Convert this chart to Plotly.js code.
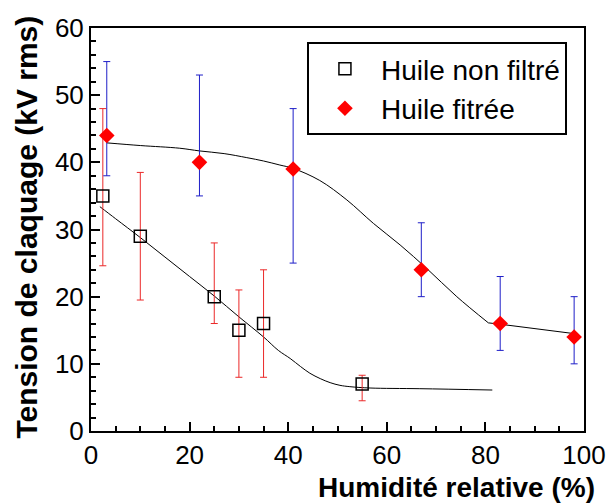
<!DOCTYPE html>
<html>
<head>
<meta charset="utf-8">
<script src="https://cdn.plot.ly/plotly-3.0.1.min.js"></script>
<style>html,body{margin:0;padding:0;background:#fff;}#chart{width:610px;height:504px;}</style>
</head>
<body>
<div id="chart"></div>
<script>
// Huile non filtré (open squares)
var nfX = [2.4, 10, 25, 30, 35, 55];
var nfY = [35, 29, 20, 15, 16, 7];
var nfErrUp = [13, 9.5, 8, 6, 8, 1.3];      // top - value
var nfErrDown = [10.4, 9.5, 4, 7, 8, 2.5];  // value - bottom

// Huile fitrée (red diamonds)
var fX = [3.2, 22, 41, 67, 83, 98];
var fY = [44, 40, 39, 24, 16, 14];
var fErrUp = [11, 13, 9, 7, 7, 6];
var fErrDown = [6, 5, 14, 4, 4, 4];

// fitted curves
var nfFitX = [1.8, 5, 10, 15, 20, 25, 30, 35, 38, 40.4, 42.5, 44.4, 46.5, 48.5, 50.5, 52.5, 56.6, 66.7, 81.4];
var nfFitY = [33.4, 31.6, 28.8, 25.9, 23.0, 20.1, 17.0, 14.0, 12.0, 10.8, 9.6, 8.6, 7.8, 7.2, 6.8, 6.6, 6.4, 6.3, 6.1];
var fFitX = [3.2, 10, 18, 22, 27, 31.6, 35, 38.3, 41, 46.4, 51.9, 57.3, 62.7, 68.1, 74.2, 80.6];
var fFitY = [42.9, 42.5, 42.1, 41.7, 41.3, 40.7, 40.2, 39.6, 39.1, 37.3, 34.4, 30.9, 27.7, 24.2, 20.0, 16.1];
var fTailX = [80.6, 83, 98];
var fTailY = [16.1, 15.9, 14.5];

var xTitle = 'Humidité relative (%)';
var yTitle = 'Tension de claquage (kV rms)';
var nfName = 'Huile non filtré';
var fName = 'Huile fitrée';

var FONT = 'Liberation Sans, Arial, sans-serif';

var traces = [
  {x: nfFitX, y: nfFitY, mode: 'lines', line: {color: '#000', width: 1, shape: 'spline', smoothing: 1}, showlegend: false, hoverinfo: 'skip'},
  {x: fFitX, y: fFitY, mode: 'lines', line: {color: '#000', width: 1, shape: 'spline', smoothing: 1}, showlegend: false, hoverinfo: 'skip'},
  {x: fTailX, y: fTailY, mode: 'lines', line: {color: '#000', width: 1}, showlegend: false, hoverinfo: 'skip'},
  {x: nfX, y: nfY, name: nfName, mode: 'markers', type: 'scatter',
   marker: {symbol: 'square-open', size: 12, color: '#000', line: {width: 1.5, color: '#000'}},
   error_y: {type: 'data', symmetric: false, array: nfErrUp, arrayminus: nfErrDown, color: 'rgb(235,40,40)', thickness: 1, width: 3.5}},
  {x: fX, y: fY, name: fName, mode: 'markers', type: 'scatter',
   marker: {symbol: 'diamond', size: 12, color: '#ff0000', line: {width: 0}},
   error_y: {type: 'data', symmetric: false, array: fErrUp, arrayminus: fErrDown, color: 'rgb(30,30,200)', thickness: 1, width: 3.5}}
];

var layout = {
  width: 610, height: 504,
  margin: {l: 91, r: 26, t: 28, b: 73},
  paper_bgcolor: '#fff', plot_bgcolor: '#fff',
  font: {family: FONT, color: '#000', size: 26},
  showlegend: true,
  legend: {x: 0.438, y: 0.965, xanchor: 'left', yanchor: 'top', bgcolor: '#fff',
           bordercolor: '#000', borderwidth: 2, font: {family: FONT, size: 28, color: '#000'},
           itemwidth: 62},
  xaxis: {range: [0, 100], dtick: 20, tick0: 0, ticks: 'inside', ticklen: 9, tickwidth: 2, tickcolor: '#000',
          showline: true, linewidth: 2, linecolor: '#000', mirror: true, showgrid: false, zeroline: false,
          ticklabelstandoff: 0, tickfont: {family: FONT, size: 26, color: '#000'},
          minor: {dtick: 5, ticks: 'inside', ticklen: 5, tickwidth: 2, tickcolor: '#000', showgrid: false}},
  yaxis: {range: [0, 60], dtick: 10, tick0: 0, ticks: 'inside', ticklen: 9, tickwidth: 2, tickcolor: '#000',
          showline: true, linewidth: 2, linecolor: '#000', mirror: true, showgrid: false, zeroline: false,
          tickfont: {family: FONT, size: 26, color: '#000'},
          minor: {dtick: 2, ticks: 'inside', ticklen: 5, tickwidth: 2, tickcolor: '#000', showgrid: false}},
  annotations: [
    {text: xTitle, xref: 'paper', yref: 'paper', x: 1.025, y: -0.139, xanchor: 'right', yanchor: 'middle',
     borderpad: 0, showarrow: false, font: {family: FONT, size: 28, weight: 700, color: '#000'}},
    {text: yTitle, xref: 'paper', yref: 'paper', x: -0.130, y: 0.507, xanchor: 'center', yanchor: 'middle',
     textangle: -90, showarrow: false, font: {family: FONT, size: 30, weight: 700, color: '#000'}}
  ]
};

Plotly.newPlot('chart', traces, layout, {displayModeBar: false, staticPlot: true});
</script>
</body>
</html>
